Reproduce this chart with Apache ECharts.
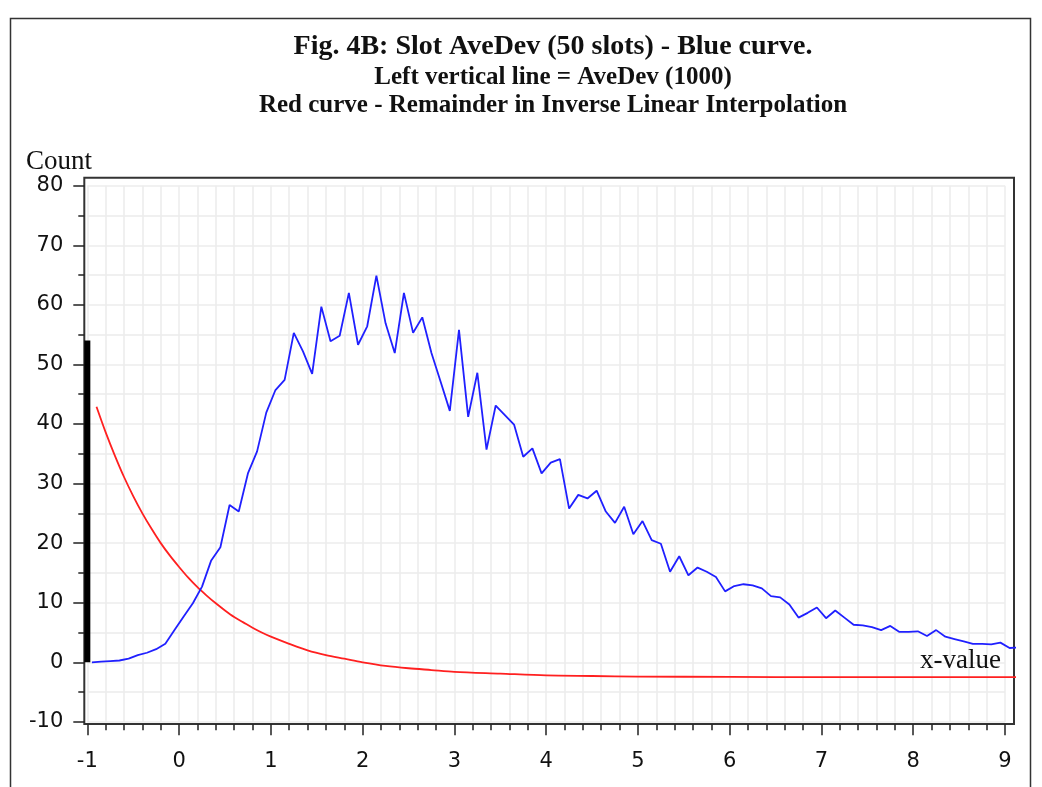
<!DOCTYPE html>
<html>
<head>
<meta charset="utf-8">
<script src="https://cdn.jsdelivr.net/npm/echarts@6/dist/echarts.min.js"></script>
<style>
html,body{margin:0;padding:0;background:#fff;}
#chart{width:1042px;height:787px;}
</style>
</head>
<body>
<div id="chart"></div>
<script>
// ---- data ----
var titleLines = [
  'Fig. 4B: Slot AveDev (50 slots) - Blue curve.',
  'Left vertical line = AveDev (1000)',
  'Red curve - Remainder in Inverse Linear Interpolation'
];
var yAxisTitle = 'Count';
var xAxisTitle = 'x-value';

var xTickMin = -1, xTickMax = 9;
var yTickMin = -10, yTickMax = 80;

// blue curve: slot centres and counts
var blueX = [-0.95,-0.85,-0.75,-0.65,-0.55,-0.45,-0.35,-0.25,-0.15,-0.05,
  0.05,0.15,0.25,0.35,0.45,0.55,0.65,0.75,0.85,0.95,
  1.05,1.15,1.25,1.35,1.45,1.55,1.65,1.75,1.85,1.95,
  2.05,2.15,2.25,2.35,2.45,2.55,2.65,2.75,2.85,2.95,
  3.05,3.15,3.25,3.35,3.45,3.55,3.65,3.75,3.85,3.95,
  4.05,4.15,4.25,4.35,4.45,4.55,4.65,4.75,4.85,4.95,
  5.05,5.15,5.25,5.35,5.45,5.55,5.65,5.75,5.85,5.95,
  6.05,6.15,6.25,6.35,6.45,6.55,6.65,6.75,6.85,6.95,
  7.05,7.15,7.25,7.35,7.45,7.55,7.65,7.75,7.85,7.95,
  8.05,8.15,8.25,8.35,8.45,8.55,8.65,8.75,8.85,8.95,
  9.05,9.15];
var blueY = [0.0,0.1,0.2,0.3,0.6,1.2,1.6,2.2,3.1,5.4,
  7.7,9.9,12.7,17.1,19.3,26.4,25.3,31.7,35.4,41.9,
  45.7,47.4,55.3,52.2,48.4,59.7,53.9,54.8,62.0,53.3,
  56.4,64.9,56.9,51.9,62.0,55.3,57.9,51.9,47.1,42.2,
  55.8,41.2,48.6,35.7,43.1,41.5,39.9,34.5,35.9,31.7,
  33.5,34.1,25.8,28.1,27.5,28.8,25.3,23.4,26.1,21.5,
  23.7,20.5,19.9,15.2,17.8,14.6,15.9,15.2,14.3,11.9,
  12.8,13.1,12.9,12.4,11.1,10.9,9.7,7.5,8.3,9.2,
  7.4,8.7,7.5,6.3,6.2,5.9,5.4,6.1,5.1,5.1,
  5.2,4.4,5.4,4.3,3.9,3.5,3.1,3.1,3.0,3.3,
  2.4,2.5];

// red curve: remainder in inverse linear interpolation
var redX = [-0.9,-0.8,-0.7,-0.6,-0.5,-0.4,-0.3,-0.2,-0.1,0.0,
  0.1,0.2,0.3,0.4,0.5,0.6,0.7,0.8,0.9,1.0,
  1.2,1.4,1.6,1.8,2.0,2.25,2.5,2.75,3.0,3.5,
  4.0,4.5,5.0,6.0,7.0,8.0,9.2];
var redY = [42.9,38.6,34.7,31.1,27.9,25.0,22.4,20.0,17.9,16.0,
  14.2,12.6,11.2,9.9,8.7,7.6,6.7,5.8,5.0,4.3,
  3.1,2.0,1.2,0.6,0.0,-0.6,-1.0,-1.3,-1.6,-1.9,
  -2.2,-2.3,-2.4,-2.45,-2.5,-2.5,-2.5];

// left vertical line: AveDev(1000)
var aveDevX = [-1, -1];
var aveDevY = [0, 54];

function pairs(xs, ys){ var out=[]; for(var i=0;i<xs.length;i++) out.push([xs[i], ys[i]]); return out; }

var chart = echarts.init(document.getElementById('chart'), null, {renderer:'canvas'});

var tickLine = {color:'#222', width:1.5};
var gridLine = {color:'#ececec', width:1.5};
var labelFont = {fontFamily:'DejaVu Sans', fontSize:21, color:'#111'};

var option = {
  backgroundColor:'#fff',
  animation:false,
  title:[
    {text:titleLines[0], left:548, textAlign:'center', top:28, textStyle:{fontFamily:'Liberation Serif', fontWeight:'bold', fontSize:28, color:'#111'}},
    {text:titleLines[1], left:548, textAlign:'center', top:60, textStyle:{fontFamily:'Liberation Serif', fontWeight:'bold', fontSize:25, color:'#111'}},
    {text:titleLines[2], left:548, textAlign:'center', top:88, textStyle:{fontFamily:'Liberation Serif', fontWeight:'bold', fontSize:25, color:'#111'}}
  ],
  graphic:[
    {type:'rect', shape:{x:10.5, y:18.5, width:1020, height:800}, style:{fill:'none', stroke:'#333', lineWidth:1.5}, silent:true, z:-10},
    {type:'text', left:26, top:148, style:{text:yAxisTitle, fontFamily:'Liberation Serif', fontSize:27, fill:'#111'}},
    {type:'text', left:920, top:647, style:{text:xAxisTitle, fontFamily:'Liberation Serif', fontSize:27, fill:'#111'}, z:10}
  ],
  grid:[
    {left:84.3, top:177.7, width:929.7, height:546.3, show:true, borderColor:'#333', borderWidth:2, backgroundColor:'transparent', containLabel:false},
    {left:87.3, top:185.7, width:917.7, height:536.2, containLabel:false}
  ],
  xAxis:[
    {gridIndex:0, type:'value', min:-1.033, max:9.098, show:false},
    {gridIndex:1, type:'value', min:xTickMin, max:xTickMax, interval:1, position:'bottom', offset:2.3,
      axisLine:{show:false, onZero:false},
      axisTick:{show:true, length:11, lineStyle:tickLine},
      minorTick:{show:true, splitNumber:5, length:6, lineStyle:tickLine},
      splitLine:{show:true, lineStyle:gridLine},
      minorSplitLine:{show:true, lineStyle:gridLine},
      axisLabel:Object.assign({margin:27}, labelFont)
    }
  ],
  yAxis:[
    {gridIndex:0, type:'value', min:-10.36, max:81.34, show:false},
    {gridIndex:1, type:'value', min:yTickMin, max:yTickMax, interval:10, position:'left', offset:3,
      axisLine:{show:false, onZero:false},
      axisTick:{show:true, length:11, lineStyle:tickLine},
      minorTick:{show:true, splitNumber:2, length:6, lineStyle:tickLine},
      splitLine:{show:true, lineStyle:gridLine},
      minorSplitLine:{show:true, lineStyle:gridLine},
      axisLabel:Object.assign({margin:21}, labelFont)
    }
  ],
  series:[
    {type:'line', xAxisIndex:0, yAxisIndex:0, data:pairs(redX, redY), symbol:'none', smooth:0.3,
      lineStyle:{color:'#ff2020', width:1.8}, clip:true, z:3},
    {type:'line', xAxisIndex:0, yAxisIndex:0, data:pairs(blueX, blueY), symbol:'none',
      lineStyle:{color:'#2020ff', width:1.8}, clip:true, z:4},
    {type:'line', xAxisIndex:0, yAxisIndex:0, data:pairs(aveDevX, aveDevY), symbol:'none',
      lineStyle:{color:'#000', width:6, cap:'butt'}, clip:false, z:5}
  ]
};
chart.setOption(option);
</script>
</body>
</html>
